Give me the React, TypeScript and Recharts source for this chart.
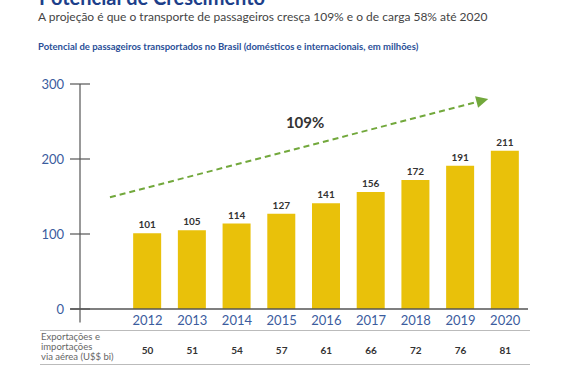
import { ComposedChart, Bar, XAxis, YAxis, ReferenceLine, LabelList } from "recharts";

const years = ["2012", "2013", "2014", "2015", "2016", "2017", "2018", "2019", "2020"];
const passengers = [101, 105, 114, 127, 141, 156, 172, 191, 211];
const exportsBi = [50, 51, 54, 57, 61, 66, 72, 76, 81];
const yTicks = [0, 100, 200, 300];
const trendStart = { x: -0.84, y: 149 };
const trendEnd = { x: 7.62, y: 280 };
const trendLabel = "109%";

const data = years.map((year, i) => ({ i, year, passengers: passengers[i], exp: exportsBi[i] }));

const FONT = "Lato, 'Open Sans', sans-serif";
const BLUE = "#3b5c9e";
const GREEN = "#72a83c";

function YTick(props: any) {
  const { x, y, payload } = props;
  return (
    <g>
      <line x1={x - 10} x2={x + 10} y1={y} y2={y} stroke="#555" strokeWidth={1.2} />
      <text x={x - 16} y={y + 4.5} textAnchor="end" fontSize={13} fill={BLUE} fontFamily={FONT}>
        {payload.value}
      </text>
    </g>
  );
}

function XTick(props: any) {
  const { x, y, payload } = props;
  const i = payload.value as number;
  return (
    <g>
      <text x={x} y={y + 2} textAnchor="middle" fontSize={13} fill={BLUE} fontFamily={FONT}>
        {years[i]}
      </text>
      <text x={x} y={y + 31} textAnchor="middle" fontSize={10} fontWeight={700} fill="#333" fontFamily={FONT}>
        {exportsBi[i]}
      </text>
    </g>
  );
}

function TrendArrow(props: any) {
  const { x1, y1, x2, y2 } = props;
  const dx = x2 - x1;
  const dy = y2 - y1;
  const len = Math.sqrt(dx * dx + dy * dy);
  const ux = dx / len;
  const uy = dy / len;
  const bx = x2 - ux * 12;
  const by = y2 - uy * 12;
  const px = -uy * 6;
  const py = ux * 6;
  return (
    <g>
      <line x1={x1} y1={y1} x2={bx} y2={by} stroke={GREEN} strokeWidth={2} strokeDasharray="6 4" />
      <polygon points={`${x2},${y2} ${bx + px},${by + py} ${bx - px},${by - py}`} fill={GREEN} />
      <text x={(x1 + x2) / 2 + 6} y={(y1 + y2) / 2 - 20} textAnchor="middle" fontSize={15} fontWeight={700} fill="#333" fontFamily={FONT}>
        {trendLabel}
      </text>
    </g>
  );
}

export default function App() {
  return (
    <div style={{ position: "absolute", left: 0, top: 0, width: 570, height: 380, background: "#fff", fontFamily: FONT, overflow: "hidden" }}>
      <div style={{ position: "absolute", left: 39, top: -15, fontSize: 20, lineHeight: "24px", fontWeight: 700, color: "#1d3f8a", whiteSpace: "nowrap" }}>
        Potencial de Crescimento
      </div>
      <div style={{ position: "absolute", left: 38, top: 9, fontSize: 12, color: "#444", whiteSpace: "nowrap" }}>
        A projeção é que o transporte de passageiros cresça 109% e o de carga 58% até 2020
      </div>
      <div style={{ position: "absolute", left: 38, top: 41, fontSize: 9.5, fontWeight: 700, color: "#2a4f98", whiteSpace: "nowrap" }}>
        Potencial de passageiros transportados no Brasil (domésticos e internacionais, em milhões)
      </div>
      <div style={{ position: "absolute", left: 40, top: 330, width: 490, height: 1, background: "#bbb" }} />
      <div style={{ position: "absolute", left: 40, top: 364, width: 490, height: 1, background: "#bbb" }} />
      <div style={{ position: "absolute", left: 41, top: 332, fontSize: 9.5, lineHeight: "10px", color: "#666", whiteSpace: "nowrap" }}>
        Exportações e<br />importações<br />via aérea (U$$ bi)
      </div>
      <div style={{ position: "absolute", left: 0, top: 0 }}>
        <ComposedChart width={570} height={380} data={data} margin={{ top: 84, right: 42, bottom: 17.5, left: 0 }}>
          <XAxis
            type="number"
            dataKey="i"
            domain={[-1.51, 8.51]}
            ticks={[0, 1, 2, 3, 4, 5, 6, 7, 8]}
            allowDataOverflow
            axisLine={false}
            tickLine={false}
            tickSize={0}
            tickMargin={0}
            height={40}
            tick={<XTick />}
            interval={0}
          />
          <YAxis
            type="number"
            domain={[-18, 300]}
            ticks={yTicks}
            allowDataOverflow
            width={80}
            axisLine={{ stroke: "#555", strokeWidth: 1.2 }}
            tickLine={false}
            tickSize={0}
            tickMargin={0}
            tick={<YTick />}
            interval={0}
          />
          <ReferenceLine
            segment={[{ x: -1.73, y: 0 }, { x: 8.51, y: 0 }]}
            stroke="#555"
            strokeWidth={1.5}
            ifOverflow="visible"
          />
          <Bar dataKey="passengers" fill="#e9c10a" barSize={28} isAnimationActive={false}>
            <LabelList dataKey="passengers" position="top" offset={5} fontSize={10} fontWeight={700} fill="#333" fontFamily={FONT} />
          </Bar>
          <ReferenceLine
            segment={[trendStart, trendEnd]}
            ifOverflow="visible"
            shape={(p: any) => <TrendArrow {...p} />}
          />
        </ComposedChart>
      </div>
    </div>
  );
}
